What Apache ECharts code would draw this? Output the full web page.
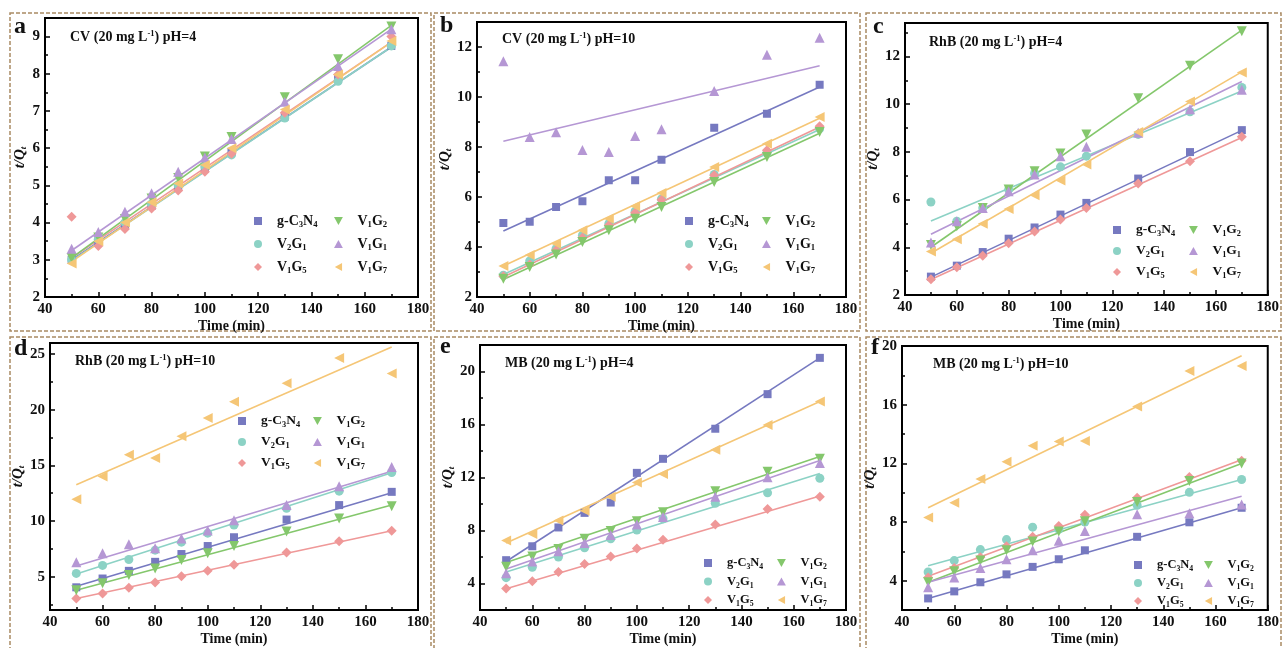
<!DOCTYPE html>
<html>
<head>
<meta charset="utf-8">
<script src="https://cdn.jsdelivr.net/npm/echarts@6/dist/echarts.min.js"></script>
<style>
  html, body { margin: 0; padding: 0; background: #fff; }
  #chart { width: 1282px; height: 648px; }
</style>
</head>
<body>
<div id="chart"></div>
<script>
// sampling times (min), same for every panel
const times = [50, 60, 70, 80, 90, 100, 110, 130, 150, 170];
const materials = ['g-C3N4', 'V2G1', 'V1G5', 'V1G2', 'V1G1', 'V1G7'];

// t/Qt values, one row per material (order as in `materials`)
const panelA = [
  [3.0, 3.5, 3.95, 4.45, 4.95, 5.45, 5.9, 6.85, 7.85, 8.75],
  [3.0, 3.55, 4.0, 4.5, 5.0, 5.5, 5.82, 6.81, 7.8, 8.75],
  [4.16, 3.37, 3.83, 4.38, 4.86, 5.37, 5.85, 6.95, 7.98, 9.0],
  [3.05, 3.6, 4.1, 4.65, 5.2, 5.78, 6.3, 7.37, 8.39, 9.27],
  [3.3, 3.75, 4.29, 4.79, 5.37, 5.75, 6.25, 7.25, 8.21, 9.2],
  [2.9, 3.5, 4.0, 4.55, 5.05, 5.55, 6.0, 7.04, 7.98, 8.88]
];
const panelB = [
  [4.96, 5.01, 5.6, 5.83, 6.67, 6.67, 7.49, 8.77, 9.33, 10.49],
  [2.87, 3.44, 3.93, 4.47, 4.93, 5.43, 5.92, 6.9, 7.76, 8.73],
  [2.83, 3.3, 3.87, 4.37, 4.87, 5.37, 5.89, 6.87, 7.87, 8.83],
  [2.73, 3.2, 3.7, 4.2, 4.67, 5.13, 5.6, 6.6, 7.6, 8.6],
  [11.43, 8.4, 8.59, 7.88, 7.8, 8.44, 8.71, 10.24, 11.69, 12.37],
  [3.24, 3.68, 4.13, 4.67, 5.13, 5.63, 6.16, 7.2, 8.13, 9.2]
];
const panelC = [
  [2.77, 3.23, 3.8, 4.36, 4.83, 5.37, 5.86, 6.88, 7.99, 8.91],
  [5.9, 5.09, 5.65, 6.42, 7.09, 7.37, 7.82, 8.73, 9.68, 10.7],
  [2.66, 3.16, 3.65, 4.17, 4.66, 5.16, 5.65, 6.67, 7.61, 8.63],
  [4.1, 4.88, 5.65, 6.42, 7.19, 7.93, 8.73, 10.25, 11.61, 13.05],
  [4.2, 5.09, 5.65, 6.35, 7.05, 7.82, 8.21, 8.8, 9.78, 10.6],
  [3.82, 4.34, 4.99, 5.6, 6.18, 6.8, 7.47, 8.83, 10.11, 11.33]
];
const panelD = [
  [4.04, 4.83, 5.52, 6.33, 7.03, 7.75, 8.54, 10.13, 11.43, 12.62],
  [5.29, 6.01, 6.54, 7.38, 8.1, 8.91, 9.64, 11.14, 12.68, 14.36],
  [3.03, 3.49, 3.99, 4.48, 5.03, 5.52, 6.07, 7.17, 8.19, 9.12],
  [3.77, 4.41, 5.14, 5.72, 6.5, 7.09, 7.75, 9.06, 10.22, 11.32],
  [6.3, 7.09, 7.9, 7.55, 8.42, 9.14, 10.07, 11.43, 13.12, 14.86],
  [11.96, 13.99, 15.96, 15.67, 17.61, 19.26, 20.71, 22.39, 24.65, 23.26]
];
const panelE = [
  [5.76, 6.81, 8.23, 9.33, 10.11, 12.35, 13.41, 15.68, 18.29, 21.03],
  [4.44, 5.22, 6.0, 6.69, 7.37, 8.03, 8.89, 10.06, 10.84, 11.94],
  [3.63, 4.17, 4.86, 5.47, 6.03, 6.64, 7.3, 8.45, 9.62, 10.55],
  [5.27, 6.03, 6.61, 7.37, 7.96, 8.69, 9.37, 10.96, 12.43, 13.41],
  [4.78, 5.66, 6.44, 7.05, 7.66, 8.45, 9.01, 10.55, 12.01, 13.09],
  [7.25, 7.74, 8.76, 9.5, 10.55, 11.62, 12.26, 14.09, 15.97, 17.73]
];
const panelF = [
  [2.79, 3.27, 3.89, 4.43, 4.94, 5.46, 6.07, 6.99, 7.98, 8.97],
  [4.59, 5.37, 6.12, 6.8, 7.65, 7.5, 8.0, 9.14, 10.02, 10.9],
  [4.21, 4.87, 5.59, 6.34, 6.99, 7.72, 8.49, 9.65, 11.07, 12.17],
  [3.89, 4.65, 5.37, 6.07, 6.67, 7.35, 8.05, 9.36, 10.79, 11.99],
  [3.55, 4.21, 4.87, 5.46, 6.07, 6.73, 7.39, 8.53, 8.6, 9.19],
  [8.31, 9.32, 10.94, 12.11, 13.2, 13.49, 13.53, 15.88, 18.29, 18.64]
];

// fitted line values at t = 50 and t = 170
const fitTimes = [50, 170];
const fitA = [[3.0, 8.72], [2.98, 8.72], [3.05, 8.85], [3.05, 9.3], [3.25, 9.2], [2.95, 8.85]];
const fitB = [[4.64, 10.4], [2.9, 8.7], [2.8, 8.8], [2.7, 8.55], [8.23, 11.25], [3.24, 9.15]];
const fitC = [[2.75, 8.9], [5.1, 10.55], [2.65, 8.6], [4.0, 13.1], [4.55, 10.95], [3.75, 11.35]];
const fitD = [[4.13, 12.54], [5.23, 14.33], [3.03, 9.12], [3.78, 11.43], [5.96, 14.48], [13.26, 25.64]];
const fitE = [[5.66, 21.03], [4.86, 12.31], [3.6, 10.6], [5.59, 13.58], [5.1, 13.28], [7.05, 17.73]];
const fitF = [[2.79, 8.97], [5.02, 10.9], [4.3, 12.25], [3.89, 11.99], [3.89, 9.76], [8.97, 19.34]];

// axis ticks
const xTicks = [40, 60, 80, 100, 120, 140, 160, 180];
const xMinorTicks = [50, 70, 90, 110, 130, 150, 170];
const yRanges = [[2, 9.5], [2, 13], [2, 13.4], [2, 26], [2, 22], [2, 20]];
const yTicks = [
  [2, 3, 4, 5, 6, 7, 8, 9],
  [2, 4, 6, 8, 10, 12],
  [2, 4, 6, 8, 10, 12],
  [5, 10, 15, 20, 25],
  [4, 8, 12, 16, 20],
  [4, 8, 12, 16, 20]
];
const yMinorTicks = [
  [2.5, 3.5, 4.5, 5.5, 6.5, 7.5, 8.5, 9.5],
  [3, 5, 7, 9, 11, 13],
  [3, 5, 7, 9, 11, 13],
  [2.5, 7.5, 12.5, 17.5, 22.5],
  [2, 6, 10, 14, 18],
  [2, 6, 10, 14, 18]
];

const letters = ['a', 'b', 'c', 'd', 'e', 'f'];
const titles = [
  'CV (20 mg L{sup|-1}) pH=4',
  'CV (20 mg L{sup|-1}) pH=10',
  'RhB (20 mg L{sup|-1}) pH=4',
  'RhB (20 mg L{sup|-1}) pH=10',
  'MB (20 mg L{sup|-1}) pH=4',
  'MB (20 mg L{sup|-1}) pH=10'
];

const panels = [panelA, panelB, panelC, panelD, panelE, panelF];
const fits = [fitA, fitB, fitC, fitD, fitE, fitF];

const colors = ['#7679c0', '#8cd2c5', '#ef9898', '#84c76c', '#b597d4', '#f5c676'];
// path symbols keep their aspect in the legend
const symbols = [
  'path://M0,0H10V10H0Z',
  'circle',
  'path://M5,0L10,5L5,10L0,5Z',
  'path://M0,0L10,0L5,9Z',
  'path://M5,0L10,9L0,9Z',
  'path://M0,5L9,0L9,10Z'
];
const symbolSizes = [8, 9, 10, 10, 10, 10];
const labelRich = {
  'g-C3N4': 'g-C{sub|3}N{sub|4}',
  'V2G1': 'V{sub|2}G{sub|1}',
  'V1G5': 'V{sub|1}G{sub|5}',
  'V1G2': 'V{sub|1}G{sub|2}',
  'V1G1': 'V{sub|1}G{sub|1}',
  'V1G7': 'V{sub|1}G{sub|7}'
};

// layout: [left, top, width, height]
const gridBoxes = [
  [45, 18, 373, 279], [477, 22, 369, 275], [905, 23, 365, 272],
  [50, 343, 368, 275], [480, 345, 366, 273], [902, 346, 372, 274]
];
const yNameGaps = [15, 19, 22, 24, 22, 22];
const xNameGaps = [18, 18, 18, 21, 21, 21];
const letterPos = [[14, 15], [440, 14], [873, 15], [14, 337], [440, 335], [871, 336]];
const titlePos = [[70, 29], [502, 31], [929, 34], [75, 353], [505, 355], [933, 356]];
// legend: col1 symbol x, col2 symbol x, first row y, row spacing, font size
const legendPos = [
  [268, 348, 221, 23, 14], [699, 776, 221, 23, 14], [1127, 1203, 230, 21, 13.5],
  [252, 327, 421, 21, 13.5], [718, 791, 563, 18.5, 12.5], [1148, 1218, 565, 18, 12.5]
];
const frames = [
  [10, 13, 421, 318], [434, 13, 426, 318], [866, 13, 415, 318],
  [10, 337, 421, 312], [434, 337, 426, 312], [866, 337, 415, 312]
];

const FONT = 'Liberation Serif';
const black = '#111';

const grid = [], xAxis = [], yAxis = [], series = [], legend = [], title = [], graphic = [];

panels.forEach((rows, p) => {
  const [gl, gt, gw, gh] = gridBoxes[p];
  grid.push({
    left: gl, top: gt, width: gw, height: gh, show: true,
    borderColor: '#000', borderWidth: 2, backgroundColor: 'transparent'
  });

  xAxis.push({
    type: 'value', gridIndex: p, min: 40, max: 180,
    axisLine: { show: true, lineStyle: { color: '#000', width: 2 } },
    axisTick: { show: true, inside: true, length: 5, customValues: xTicks, lineStyle: { color: '#000', width: 1.5 } },
    minorTick: { show: false },
    axisLabel: {
      customValues: xTicks, margin: 5, color: black,
      fontFamily: FONT, fontWeight: 'bold', fontSize: 15
    },
    splitLine: { show: false },
    name: 'Time (min)', nameLocation: 'middle', nameGap: xNameGaps[p],
    nameTextStyle: { fontFamily: FONT, fontWeight: 'bold', fontSize: 14, color: black, lineHeight: 16 }
  });
  // minor x ticks
  xAxis.push({
    type: 'value', gridIndex: p, min: 40, max: 180, position: 'bottom',
    axisLine: { show: false },
    axisTick: { show: true, inside: true, length: 3, customValues: xMinorTicks, lineStyle: { color: '#000', width: 1.5 } },
    axisLabel: { show: false },
    splitLine: { show: false }
  });

  const [ymin, ymax] = yRanges[p];
  yAxis.push({
    type: 'value', gridIndex: p, min: ymin, max: ymax, position: 'left',
    axisLine: { show: true, lineStyle: { color: '#000', width: 2 } },
    axisTick: { show: true, inside: true, length: 5, customValues: yTicks[p], lineStyle: { color: '#000', width: 1.5 } },
    axisLabel: {
      customValues: yTicks[p], margin: 5, color: black,
      fontFamily: FONT, fontWeight: 'bold', fontSize: 15
    },
    splitLine: { show: false },
    name: 't/Q{sub|t}', nameLocation: 'middle', nameGap: yNameGaps[p],
    nameTextStyle: {
      fontFamily: FONT, fontWeight: 'bold', fontStyle: 'italic', fontSize: 15, color: black, lineHeight: 16,
      rich: { sub: { fontFamily: FONT, fontWeight: 'bold', fontStyle: 'italic', fontSize: 9, color: black, verticalAlign: 'bottom', lineHeight: 10 } }
    }
  });
  yAxis.push({
    type: 'value', gridIndex: p, min: ymin, max: ymax, position: 'left',
    axisLine: { show: false },
    axisTick: { show: true, inside: true, length: 3, customValues: yMinorTicks[p], lineStyle: { color: '#000', width: 1.5 } },
    axisLabel: { show: false },
    splitLine: { show: false }
  });

  rows.forEach((vals, m) => {
    series.push({
      type: 'line', name: materials[m] + ' fit',
      xAxisIndex: 2 * p, yAxisIndex: 2 * p,
      data: fitTimes.map((t, i) => [t, fits[p][m][i]]),
      symbol: 'none', silent: true, z: 2,
      lineStyle: { color: colors[m], width: 1.6 }
    });
    series.push({
      type: 'scatter', name: materials[m],
      xAxisIndex: 2 * p, yAxisIndex: 2 * p,
      data: times.map((t, i) => [t, vals[i]]),
      symbol: symbols[m], symbolSize: symbolSizes[m], z: 3,
      itemStyle: { color: colors[m], opacity: 1 }
    });
  });

  const [c1, c2, ry, sp, fs] = legendPos[p];
  const lh = 16;
  [materials.slice(0, 3), materials.slice(3)].forEach((names, col) => {
    legend.push({
      orient: 'vertical', left: (col === 0 ? c1 : c2) - 14, top: ry - lh / 2,
      padding: 0, itemWidth: 28, itemHeight: 8, itemGap: sp - lh,
      symbolKeepAspect: true,
      selectedMode: false, data: names,
      formatter: name => labelRich[name],
      textStyle: {
        fontFamily: FONT, fontWeight: 'bold', fontSize: fs, color: black, lineHeight: lh,
        rich: { sub: { fontFamily: FONT, fontWeight: 'bold', fontSize: fs * 0.62, color: black, verticalAlign: 'bottom', lineHeight: 10 } }
      }
    });
  });

  title.push({
    text: letters[p], left: letterPos[p][0], top: letterPos[p][1], padding: 0,
    textStyle: { fontFamily: FONT, fontWeight: 'bold', fontSize: 24, color: black }
  });
  title.push({
    text: titles[p], left: titlePos[p][0], top: titlePos[p][1], padding: 0,
    textStyle: {
      fontFamily: FONT, fontWeight: 'bold', fontSize: 14, color: black, lineHeight: 16,
      rich: { sup: { fontFamily: FONT, fontWeight: 'bold', fontSize: 8.5, color: black, verticalAlign: 'top', lineHeight: 10 } }
    }
  });

  const [fx, fy, fw, fh] = frames[p];
  graphic.push({
    type: 'rect', silent: true, z: -1,
    shape: { x: fx, y: fy, width: fw, height: fh },
    style: { fill: 'none', stroke: '#a98a63', lineWidth: 1.5, lineDash: [4, 2] }
  });
});

const chart = echarts.init(document.getElementById('chart'));
chart.setOption({
  animation: false,
  backgroundColor: '#fff',
  grid, xAxis, yAxis, series, legend, title, graphic
});
</script>
</body>
</html>
